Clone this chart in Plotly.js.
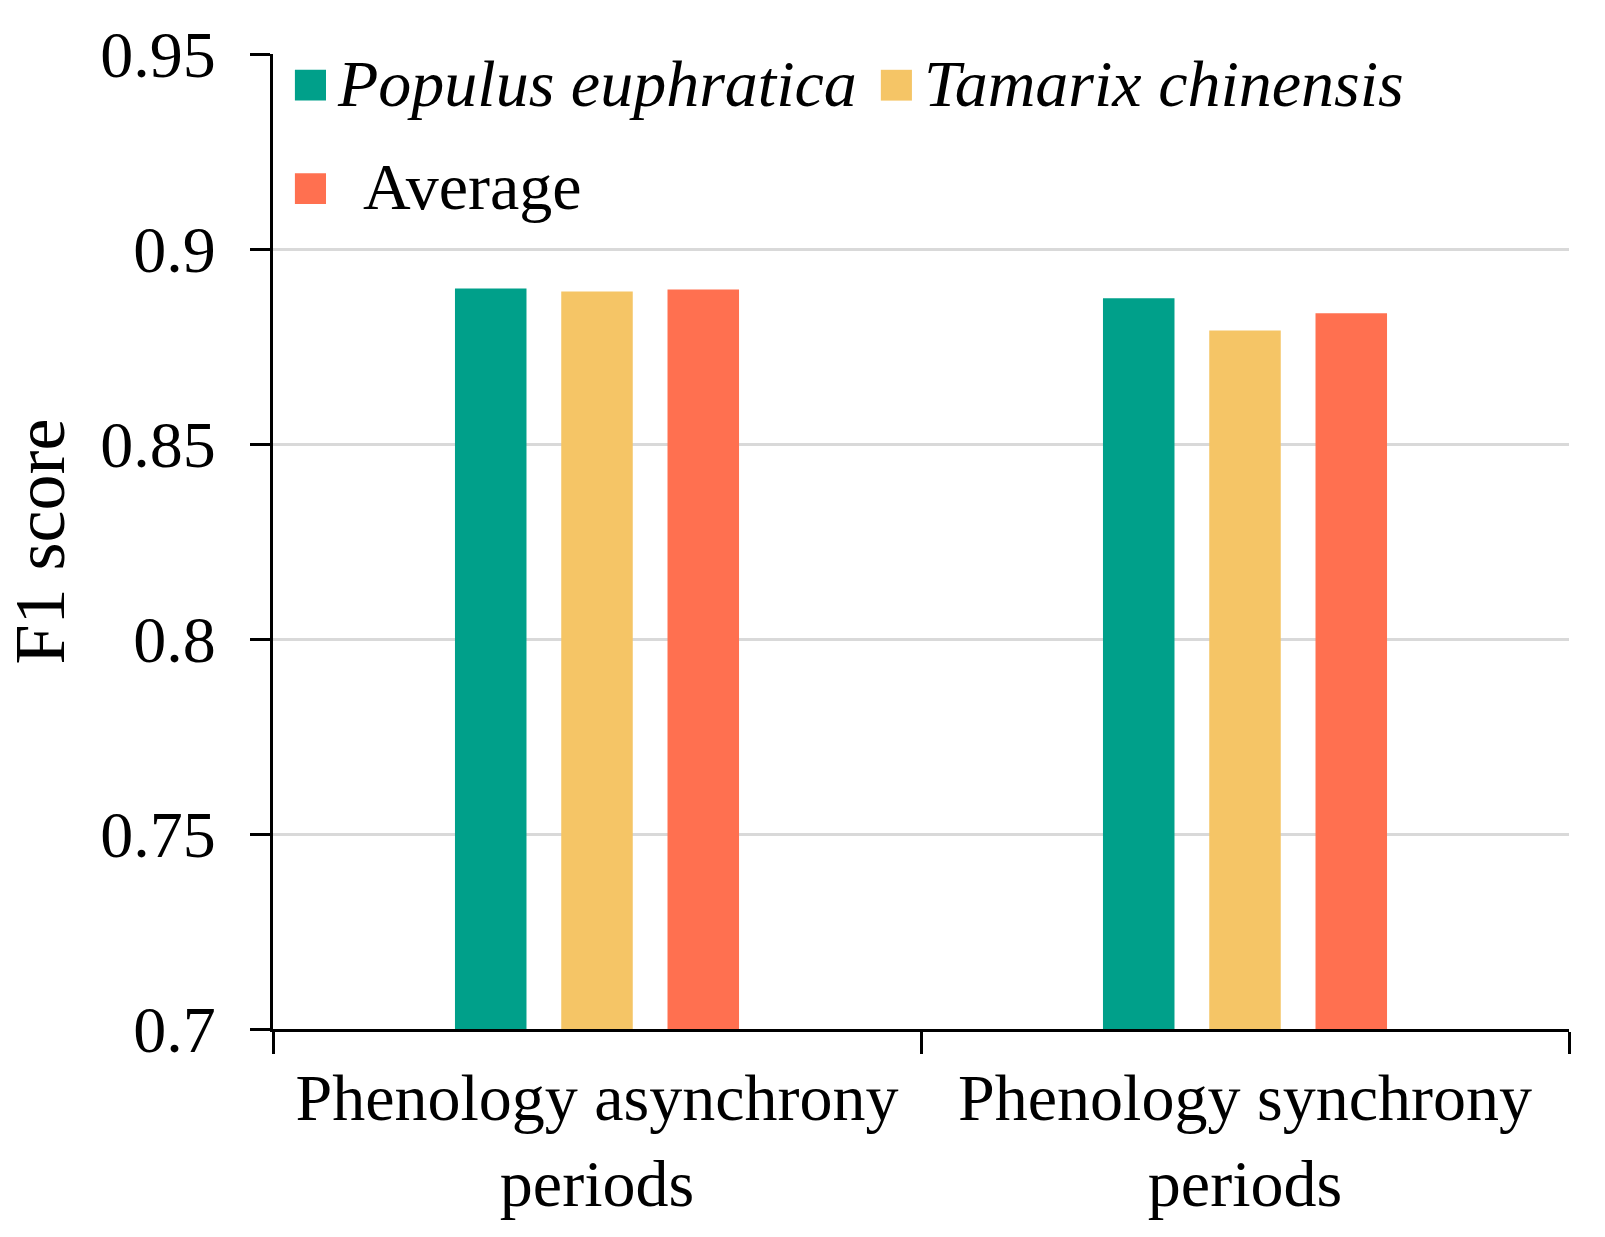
<!DOCTYPE html>
<html>
<head>
<meta charset="utf-8">
<script src="https://cdn.plot.ly/plotly-3.0.1.min.js"></script>
<style>
  html, body { margin: 0; padding: 0; background: #fff; }
  #chart { width: 1605px; height: 1237px; }
</style>
</head>
<body>
<div id="chart"></div>
<script>
// F1 score per species
const categories = ['Phenology asynchrony<br>periods', 'Phenology synchrony<br>periods'];
const populus = [0.8899, 0.8874];
const tamarix = [0.8891, 0.8791];
const average = [0.8896, 0.8835];

const seriesNames = ['Populus euphratica', 'Tamarix chinensis', 'Average'];
const seriesColors = ['#00A08A', '#F5C566', '#FF7050'];
const seriesValues = [populus, tamarix, average];

const FONT = 'Liberation Serif, Times New Roman, serif';

const data = seriesValues.map((vals, i) => ({
  type: 'bar',
  name: seriesNames[i],
  x: categories,
  y: vals,
  marker: { color: seriesColors[i] },
  hoverinfo: 'name+y'
}));

// hand-made legend: big squares like the original
const legendItems = [
  { sx: 0.0169, sy: 0.968, tx: 0.0475, italic: true },
  { sx: 0.469, sy: 0.968, tx: 0.5010, italic: true },
  { sx: 0.0169, sy: 0.862, tx: 0.0680, italic: false }
];
const sq = 0.0240;   // square width in paper x
const sqh = 0.0316;  // square height in paper y

const shapes = legendItems.map((it, i) => ({
  type: 'rect', xref: 'paper', yref: 'paper',
  x0: it.sx, x1: it.sx + sq, y0: it.sy - sqh / 2, y1: it.sy + sqh / 2,
  fillcolor: seriesColors[i], line: { width: 0 }
}));

const annotations = legendItems.map((it, i) => ({
  xref: 'paper', yref: 'paper', x: it.tx, y: it.sy + 0.002,
  xanchor: 'left', yanchor: 'middle', showarrow: false,
  text: it.italic ? '<i>' + seriesNames[i] + '</i>' : seriesNames[i],
  font: { family: FONT, size: 66, color: '#000' }
}));

const layout = {
  width: 1605,
  height: 1237,
  margin: { l: 273, r: 36, t: 54, b: 208 },
  paper_bgcolor: '#fff',
  plot_bgcolor: '#fff',
  showlegend: false,
  barmode: 'group',
  bargap: 0.508,
  bargroupgap: 0.327,
  font: { family: FONT, size: 66, color: '#000' },
  xaxis: {
    type: 'category',
    showline: true, linecolor: '#000', linewidth: 3,
    ticks: 'outside', tickson: 'boundaries', ticklen: 22, tickwidth: 3, tickcolor: '#000',
    ticklabelstandoff: 9,
    showgrid: false,
    tickfont: { family: FONT, size: 66, color: '#000' }
  },
  yaxis: {
    range: [0.7, 0.95],
    dtick: 0.05,
    automargin: true,
    showline: true, linecolor: '#000', linewidth: 3,
    ticks: 'outside', ticklen: 20, tickwidth: 3, tickcolor: '#000',
    ticklabelstandoff: 21,
    showgrid: true, gridcolor: '#D9D9D9', gridwidth: 3,
    zeroline: false,
    tickfont: { family: FONT, size: 66, color: '#000' },
    title: { text: 'F1 score', standoff: 22, font: { family: FONT, size: 72, color: '#000' } }
  },
  shapes: shapes,
  annotations: annotations
};

Plotly.newPlot('chart', data, layout, { displayModeBar: false, staticPlot: true });
</script>
</body>
</html>
